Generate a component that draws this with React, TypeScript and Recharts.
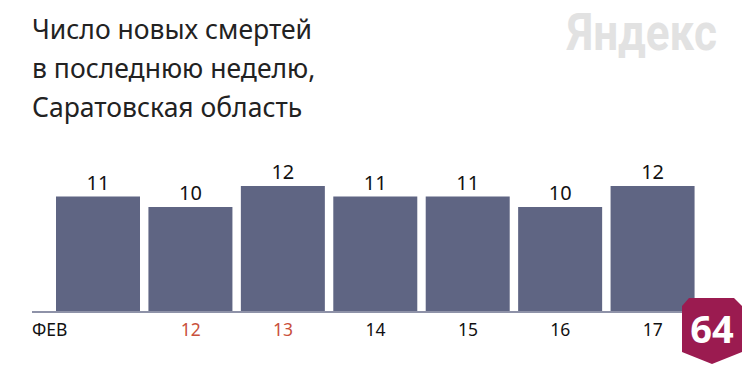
import React from 'react';
import { BarChart, Bar, XAxis, YAxis, LabelList } from 'recharts';

const days = ['11', '12', '13', '14', '15', '16', '17'];
const tickLabels = ['ФЕВ', '12', '13', '14', '15', '16', '17'];
const holidays = ['12', '13'];
const deaths = [11, 10, 12, 11, 11, 10, 12];

const titleLines = ['Число новых смертей', 'в последнюю неделю,', 'Саратовская область'];

const data = days.map((d, i) => ({ day: d, label: tickLabels[i], value: deaths[i] }));

const FONT = '"Noto Sans", "Open Sans", sans-serif';

const DayTick = (props: any) => {
  const { x, y, payload, index } = props;
  const first = index === 0;
  const red = holidays.includes(payload.value);
  return (
    <text
      x={first ? 32 : x}
      y={y}
      dy={16}
      textAnchor={first ? 'start' : 'middle'}
      fill={red ? '#c9513c' : '#111'}
      fontSize={17.5}
      fontFamily={FONT}
    >
      {tickLabels[index]}
    </text>
  );
};

const Badge = () => (
  <svg width={62} height={70} style={{ position: 'absolute', left: 681, top: 297 }}>
    <path d="M8 1 L53 1 L61 9 L61 55 L31 67 L1 55 L1 9 Z" fill="#9b1b50" />
    <text x={31} y={46} textAnchor="middle" fill="#fff" fontSize={38} fontWeight={700} fontFamily={FONT}>
      64
    </text>
  </svg>
);

const Logo = () => (
  <svg width={170} height={66} style={{ position: 'absolute', left: 560, top: 0 }}>
    <g transform="translate(7,50) scale(1,1.12)">
      <text
        x={0}
        y={0}
        fill="#e2e2e2"
        fontSize={46}
        fontWeight={700}
        fontFamily="Roboto, sans-serif"
        textLength={150}
        lengthAdjust="spacingAndGlyphs"
      >
        Яндекс
      </text>
    </g>
  </svg>
);

export default function App() {
  return (
    <div style={{ position: 'absolute', left: 0, top: 0, width: 750, height: 371, background: '#fff', overflow: 'hidden' }}>
      <div style={{ position: 'absolute', left: 32, top: 10, fontFamily: FONT, fontSize: 26.5, lineHeight: '39px', color: '#222' }}>
        {titleLines.map((t) => (
          <div key={t}>{t}</div>
        ))}
      </div>
      <Logo />
      <BarChart
        width={750}
        height={371}
        data={data}
        barCategoryGap={4}
        margin={{ top: 186, right: 51, bottom: 29, left: 32 }}
      >
        <YAxis hide domain={[0, 12]} />
        <XAxis
          dataKey="day"
          padding={{ left: 20, right: 0 }}
          tickLine={false}
          axisLine={{ stroke: '#8e92a8', strokeWidth: 2 }}
          tick={<DayTick />}
          interval={0}
        />
        <Bar dataKey="value" fill="#5f6583" isAnimationActive={false}>
          <LabelList dataKey="value" position="top" offset={7} fill="#111" fontSize={20} fontFamily={FONT} />
        </Bar>
      </BarChart>
      <Badge />
    </div>
  );
}
